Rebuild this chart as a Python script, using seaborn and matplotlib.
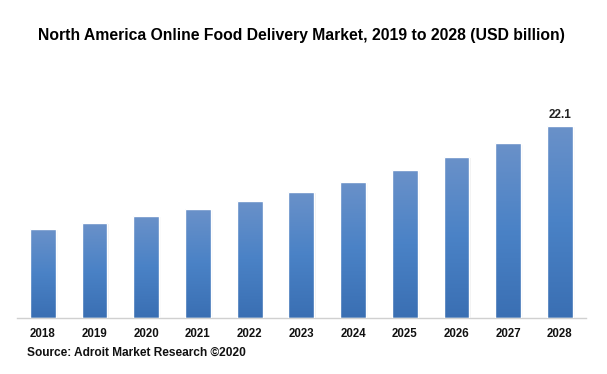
import numpy as np
import pandas as pd
import matplotlib
matplotlib.use("Agg")
import matplotlib.pyplot as plt
import seaborn as sns
from matplotlib.colors import LinearSegmentedColormap

years = ["2018", "2019", "2020", "2021", "2022", "2023", "2024", "2025", "2026", "2027", "2028"]
values = [10.2, 10.9, 11.7, 12.5, 13.5, 14.5, 15.7, 17.0, 18.5, 20.1, 22.1]
labelled = {"2028": "22.1"}

title = "North America Online Food Delivery Market, 2019 to 2028 (USD billion)"
source = "Source: Adroit Market Research \u00a92020"

sns.set_theme(style="white")
plt.rcParams["font.family"] = ["Liberation Sans", "DejaVu Sans"]

df = pd.DataFrame({"year": years, "value": values})

fig = plt.figure(figsize=(6.07, 3.74), dpi=100)
ax = fig.add_axes([0.028, 0.150, 0.937, 0.580])
sns.barplot(data=df, x="year", y="value", color="#4a7fc1", width=0.5, ax=ax, saturation=1)
ax.set_ylim(0, 25)
ax.set_xlim(-0.5, 10.5)

cmap = LinearSegmentedColormap.from_list("g", ["#3a6fb3", "#4a82c6", "#6a91c9"])
grad = np.linspace(0, 1, 256).reshape(-1, 1)
for p in list(ax.patches):
    x0, y0 = p.get_x(), p.get_y()
    w, h = p.get_width(), p.get_height()
    # soft shadow
    for k, a in enumerate([0.10, 0.07, 0.04]):
        off = 0.02 * (k + 1)
        sh = plt.Rectangle((x0 + off * 0.6, y0), w, h - off * 2, facecolor="#808080",
                           alpha=a, edgecolor="none", zorder=1.5)
        ax.add_patch(sh)
    p.set_facecolor("none")
    p.set_zorder(3)
    im = ax.imshow(grad, extent=[x0, x0 + w, y0, y0 + h], origin="lower", cmap=cmap,
                   aspect="auto", zorder=2.5)
    im.set_clip_path(p)

ax.set_xlim(-0.5, 10.5)
ax.set_ylim(0, 25)

for i, (yr, v) in enumerate(zip(years, values)):
    if yr in labelled:
        ax.text(i, v + 0.6, labelled[yr], ha="center", va="bottom", fontsize=8.5,
                fontweight="bold", color="#222222")

for s in ["top", "right", "left"]:
    ax.spines[s].set_visible(False)
ax.spines["bottom"].set_color("#d0d0d0")
ax.spines["bottom"].set_linewidth(1.0)
ax.set_yticks([])
ax.set_xlabel("")
ax.set_ylabel("")
ax.tick_params(axis="x", length=0, pad=7, labelsize=8.3)
for t in ax.get_xticklabels():
    t.set_fontweight("bold")
    t.set_color("#111111")

fig.text(0.497, 0.906, title, ha="center", va="center", fontsize=11.3, fontweight="bold",
         color="#000000")
fig.text(0.044, 0.058, source, ha="left", va="center", fontsize=8.6, fontweight="bold",
         color="#111111")

fig.savefig("out.png", dpi=100, facecolor="white")
